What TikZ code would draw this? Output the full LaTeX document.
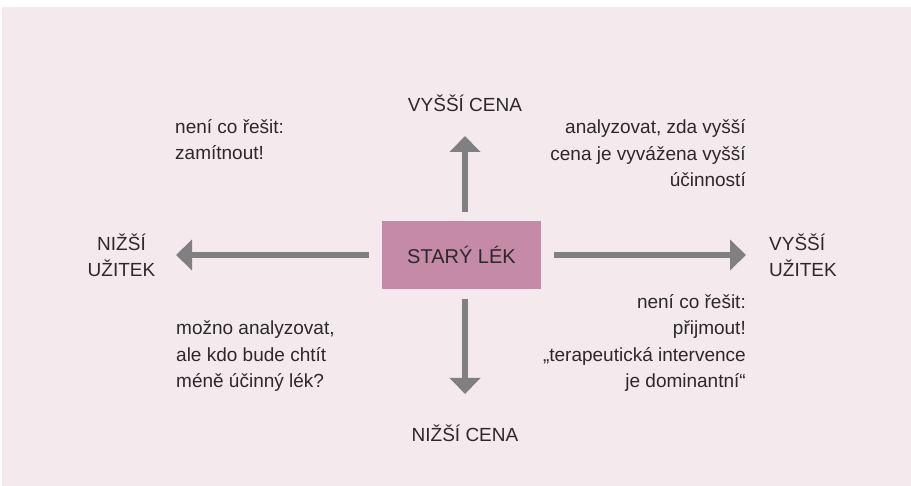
\documentclass[tikz,border=0pt]{standalone}
\usepackage{fontspec}
\setmainfont{Liberation Sans}
\usetikzlibrary{arrows.meta}
\definecolor{pozadi}{RGB}{244,233,237}
\definecolor{lek}{RGB}{197,138,165}
\definecolor{sipka}{RGB}{128,128,130}
\definecolor{pismo}{RGB}{45,40,42}
\tikzset{
  osa/.style={sipka, line width=6pt, -{Triangle[length=16pt,width=30pt]}},
  popis/.style={text=pismo, font=\fontsize{19}{26.5}\selectfont, inner sep=0pt},
  komentar/.style={popis, align=left},
}
\begin{document}
\begin{tikzpicture}[x=1pt,y=-1pt]
\useasboundingbox (0,0) rectangle (911,486);
\fill [pozadi] (2,7) rectangle (911,486);
% stary lek uprostred
\node [fill=lek, minimum width=159pt, minimum height=68pt, popis, font=\fontsize{20}{26}\selectfont] (stary) at (461.5,255) {STARÝ LÉK};
\coordinate (nahore) at (465,136);
\coordinate (dole) at (465,394);
\coordinate (vpravo) at (746,255);
\coordinate (vlevo) at (176,255);
\draw [osa] (465,212) -- (nahore);
\draw [osa] (465,299) -- (dole);
\draw [osa] (554,255) -- (vpravo);
\draw [osa] (369,255) -- (vlevo);
% popisky os (base = posledni radek)
\node [popis, anchor=base] (vcena) at (465,112) {VYŠŠÍ CENA};
\node [popis, anchor=base] (ncena) at (465,442) {NIŽŠÍ CENA};
\node [popis, align=center, anchor=base] (nuzitek) at (121.5,277) {NIŽŠÍ\\UŽITEK};
\node [popis, align=left, anchor=base west] (vuzitek) at (769,277) {VYŠŠÍ\\UŽITEK};
% kvadranty
\node [komentar, anchor=base west] (k1) at (175,160) {není co řešit:\\zamítnout!};
\node [popis, align=right, anchor=base east] (k2) at (746,187) {analyzovat, zda vyšší\\cena je vyvážena vyšší\\účinností};
\node [komentar, anchor=base west] (k3) at (176,388) {možno analyzovat,\\ale kdo bude chtít\\méně účinný lék?};
\node [popis, align=right, anchor=base east] (k4) at (746,388) {není co řešit:\\přijmout!\\„terapeutická intervence\\je dominantní“};
\end{tikzpicture}
\end{document}
